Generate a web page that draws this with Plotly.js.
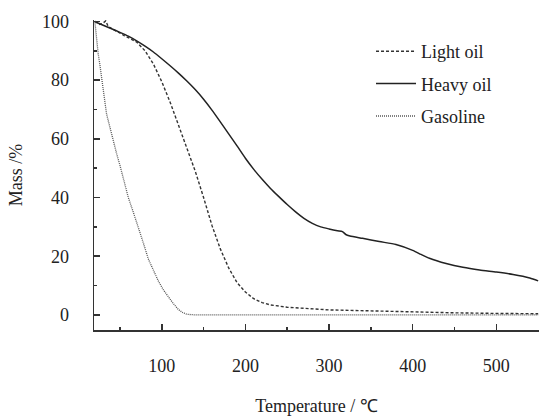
<!DOCTYPE html>
<html>
<head>
<meta charset="utf-8">
<script src="https://cdn.plot.ly/plotly-3.0.1.min.js"></script>
<style>html,body{margin:0;padding:0;background:#fff;}#chart{width:539px;height:418px;}</style>
</head>
<body>
<div id="chart"></div>
<script>
// Temperature (°C) and mass (%)
var lightT = [20, 26, 30, 33, 36, 45, 55, 70, 80, 90, 100, 110, 120, 130, 140, 150, 160, 170, 180, 190, 200, 210, 220, 230, 250, 300, 350, 400, 450, 500, 550];
var lightM = [100, 99, 99.5, 100.2, 98.3, 96.8, 95.2, 93, 90, 85.5, 79.5, 72.5, 64.5, 57, 49, 40, 30.5, 22.5, 16, 11, 7.8, 5.5, 4.2, 3.4, 2.6, 1.7, 1.3, 1.0, 0.7, 0.5, 0.4];

var heavyT = [20, 30, 40, 50, 60, 70, 80, 90, 100, 110, 120, 130, 140, 150, 160, 170, 180, 190, 200, 210, 220, 230, 240, 250, 260, 270, 280, 290, 300, 310, 316, 320, 325, 340, 360, 380, 400, 410, 420, 440, 460, 480, 500, 520, 540, 550];
var heavyM = [100, 98.7, 97.5, 96.3, 95, 93.4, 91.6, 89.6, 87.3, 84.9, 82.4, 79.7, 76.8, 73.5, 69.8, 65.8, 61.7, 57.6, 53.4, 49.6, 46.2, 43.1, 40.3, 37.6, 35.1, 32.9, 31.2, 30, 29.3, 28.7, 28.4, 27.4, 26.9, 26.1, 25, 24, 22, 20.6, 19.3, 17.5, 16.2, 15.3, 14.6, 13.8, 12.6, 11.6];

var gasT = [20, 22, 24, 26, 28, 30, 34, 38, 42, 46, 50, 55, 60, 66, 72, 78, 84, 90, 96, 102, 108, 114, 120, 125, 130, 140, 200, 300, 400, 500, 550];
var gasM = [100, 94, 89, 85.3, 81, 77, 68.5, 64, 59, 55, 51, 45.5, 40, 35, 30, 24.5, 19, 15, 11.5, 8.5, 6, 3.8, 1.8, 0.8, 0.2, 0, 0, 0, 0, 0, 0];

var seriesNames = ['Light oil', 'Heavy oil', 'Gasoline'];
var xTitle = 'Temperature / ℃';
var yTitle = 'Mass /%';

var fontFam = 'Liberation Serif';

var traces = [
  {x: lightT, y: lightM, name: seriesNames[0], legendgroup: 'a', mode: 'lines',
   line: {color: '#333', width: 1.4, dash: '3px,2px'}},
  {x: heavyT, y: heavyM, name: seriesNames[1], legendgroup: 'b', mode: 'lines',
   line: {color: '#222', width: 1.5, shape: 'spline', smoothing: 0.6}},
  {x: gasT, y: gasM, name: seriesNames[2], legendgroup: 'c', mode: 'lines',
   line: {color: '#555', width: 1.3, dash: '1px,1px'}}
];

var layout = {
  width: 539, height: 418,
  margin: {l: 94, r: 0, t: 20, b: 88, pad: 0},
  paper_bgcolor: '#fff', plot_bgcolor: '#fff',
  font: {family: fontFam, size: 18, color: '#222'},
  showlegend: true,
  legend: {x: 0.6225, y: 0.958, xanchor: 'left', yanchor: 'top', bgcolor: 'rgba(0,0,0,0)',
           itemwidth: 40,
           traceorder: 'grouped', tracegroupgap: 6, font: {family: fontFam, size: 18, color: '#222'}},
  xaxis: {
    range: [19, 551], showgrid: false, zeroline: false,
    showline: true, linecolor: '#333', linewidth: 1.5,
    ticks: 'inside', ticklen: 6, tickwidth: 1.5, tickcolor: '#333',
    tick0: 0, dtick: 100, ticklabelstandoff: 19,
    tickfont: {family: fontFam, size: 18, color: '#222'},
    minor: {ticks: 'inside', ticklen: 3, tickwidth: 1.5, tickcolor: '#333', dtick: 50, tick0: 0, showgrid: false},
    title: {text: xTitle, standoff: 24, font: {family: fontFam, size: 18, color: '#222'}}
  },
  yaxis: {
    range: [-5.15, 100.5], showgrid: false, zeroline: false,
    showline: true, linecolor: '#333', linewidth: 1.5,
    ticks: 'inside', ticklen: 6, tickwidth: 1.5, tickcolor: '#333',
    tick0: 0, dtick: 20, ticklabelstandoff: 20,
    tickfont: {family: fontFam, size: 18, color: '#222'},
    minor: {ticks: 'inside', ticklen: 3, tickwidth: 1.5, tickcolor: '#333', dtick: 10, tick0: 0, showgrid: false},
    title: {text: yTitle, standoff: 14, font: {family: fontFam, size: 18, color: '#222'}}
  }
};

Plotly.newPlot('chart', traces, layout, {displayModeBar: false, staticPlot: true});
</script>
</body>
</html>
